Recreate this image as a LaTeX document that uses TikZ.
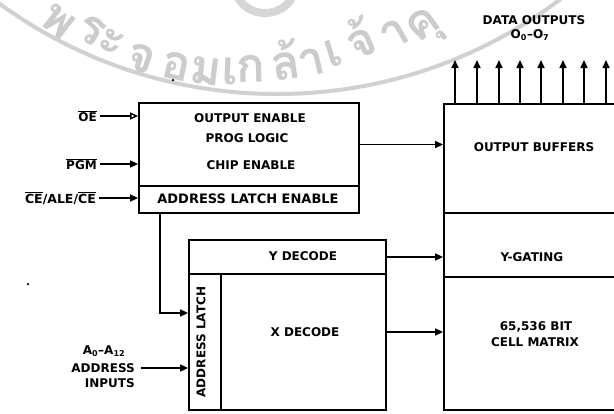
\documentclass[tikz,border=0pt]{standalone}
\usepackage{fontspec}
\setmainfont{DejaVu Sans}
\newfontfamily\thaifont[Script=Thai]{Loma}
\usetikzlibrary{arrows.meta}
\newcommand{\ovl}[1]{$\overline{\hbox{#1}}$}
\begin{document}
\begin{tikzpicture}[x=1pt,y=-1pt,
  box/.style={draw, line width=1.8pt, inner sep=0pt},
  lbl/.style={font=\fontsize{12}{12}\selectfont\bfseries, inner sep=0pt},
  arr/.style={line width=1.6pt, -{Triangle[length=8pt,width=7pt]}},
  oarr/.style={line width=1.6pt, -{Triangle[open,length=8pt,width=7pt,line width=1.4pt]}},
  wm/.style={black!20, inner sep=0pt, font=\thaifont\bfseries\fontsize{48}{48}\selectfont},
  dotmark/.style={circle, fill=black, inner sep=0pt, minimum size=2.5pt}]
\useasboundingbox (0,0) rectangle (614,413);
\clip (0,0) rectangle (614,413);
\fill[white] (0,0) rectangle (614,413);

% ---------- watermark ----------
\draw[black!18, line width=4pt] (277,-377) circle[radius=471];
\draw[black!16, line width=8pt] (265,-14) ellipse[x radius=30, y radius=27];
\node[wm, rotate=-38] (w1) at (58,22) {พ};
\node[wm, rotate=-30] (w2) at (91,30) {ร};
\node[wm, rotate=-26] (w3) at (111,42) {ะ};
\node[wm, rotate=-19] (w4) at (141,58) {จ};
\node[wm, rotate=-12] (w5) at (176,66) {อ};
\node[wm, rotate=-7] (w6) at (206,71) {ม};
\node[wm, rotate=-2] (w7) at (230,71) {เ};
\node[wm, rotate=1] (w8) at (251,69) {ก};
\node[wm, rotate=8] (w9) at (285,60) {ล้};
\node[wm, rotate=13] (w10) at (312,62) {า};
\node[wm, rotate=17] (w11) at (333,53) {เ};
\node[wm, rotate=23] (w12) at (360,38) {จ้};
\node[wm, rotate=30] (w13) at (394,34) {า};
\node[wm, rotate=36] (w14) at (426,29) {คุ};

% ---------- boxes ----------
\node[box, minimum width=220pt, minimum height=83pt] (ctl) at (249,144.5) {};
\node[box, minimum width=220pt, minimum height=27pt] (ale) at (249,199.5) {};
\node[box, minimum width=197pt, minimum height=34pt] (ydec) at (287.5,257) {};
\node[box, minimum width=32pt, minimum height=136pt] (latch) at (205,342) {};
\node[box, minimum width=165pt, minimum height=136pt] (xdec) at (303.5,342) {};
\node[box, minimum width=180pt, minimum height=109pt] (obuf) at (534,158.5) {};
\node[box, minimum width=180pt, minimum height=64pt] (ygate) at (534,245) {};
\node[box, minimum width=180pt, minimum height=133pt] (cell) at (534,343.5) {};

% ---------- texts ----------
\node[lbl] (t1) at (250,118) {OUTPUT ENABLE};
\node[lbl] (t2) at (247,138) {PROG LOGIC};
\node[lbl] (t3) at (251,165) {CHIP ENABLE};
\node[lbl, font=\fontsize{13}{13}\selectfont\bfseries] (t4) at (248,199) {ADDRESS LATCH ENABLE};
\node[lbl] (t5) at (534,147) {OUTPUT BUFFERS};
\node[lbl] (t6) at (532,257) {Y-GATING};
\node[lbl] (t7) at (536,327) {65,536 BIT};
\node[lbl] (t8) at (535,342) {CELL MATRIX};
\node[lbl] (t9) at (303,256) {Y DECODE};
\node[lbl] (t10) at (305,332) {X DECODE};
\node[lbl, rotate=90] (t11) at (201,342) {ADDRESS LATCH};
\node[lbl] (t12) at (534,20) {DATA OUTPUTS};
\node[lbl] (t13) at (530,35) {O\textsubscript{0}–O\textsubscript{7}};
\node[lbl] (a0) at (104,351) {A\textsubscript{0}–A\textsubscript{12}};
\node[lbl, anchor=east] (addr) at (135,368) {ADDRESS};
\node[lbl, anchor=east] (inp) at (135,383) {INPUTS};
\node[lbl, anchor=east] (oe) at (97,116) {\ovl{OE}};
\node[lbl, anchor=east] (pgm) at (97,164) {\ovl{PGM}};
\node[lbl, anchor=east, font=\fontsize{12.5}{12.5}\selectfont\bfseries] (ce) at (96,198) {\ovl{CE}/ALE/\ovl{CE}};

% stray dots of the scan
\node[dotmark] (d1) at (173,80) {};
\node[dotmark] (d2) at (28,284) {};

% ---------- connectors ----------
\draw[oarr, shorten <=3pt] (oe.east) -- (oe.east -| ctl.west);
\draw[arr, shorten <=3pt] (pgm.east) -- (pgm.east -| ctl.west);
\draw[arr, shorten <=3pt] (ce.east) -- (ce.east -| ale.west);
\draw[arr] (ctl.east) -- (ctl.east -| obuf.west);
\draw[arr] (ydec.east) -- (ydec.east -| ygate.west);
\coordinate (xa) at (0,332);
\draw[arr] (xdec.east |- xa) -- (cell.west |- xa);
\coordinate (lt) at (160,313);
\draw[line width=1.6pt, -{Triangle[length=8pt,width=7pt]}] (ale.south -| lt) -- (lt) -- (lt -| latch.west);
\draw[arr, shorten <=6pt] (addr.east) -- (addr.east -| latch.west);
\foreach \i/\x in {1/455,2/477,3/499,4/520,5/541,6/563,7/584,8/606}{
  \coordinate (do\i) at (\x,60);
  \draw[arr] (obuf.north -| do\i) -- (do\i);
}
\end{tikzpicture}
\end{document}
